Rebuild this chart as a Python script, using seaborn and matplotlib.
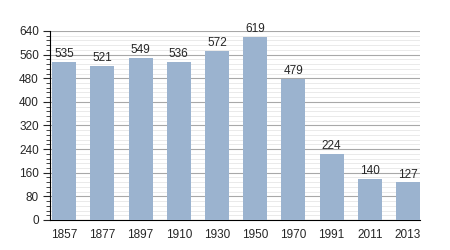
import matplotlib
matplotlib.use("Agg")
import matplotlib.pyplot as plt
import seaborn as sns
import pandas as pd
from matplotlib.ticker import MultipleLocator

years = ["1857", "1877", "1897", "1910", "1930", "1950", "1970", "1991", "2011", "2013"]
population = [535, 521, 549, 536, 572, 619, 479, 224, 140, 127]

df = pd.DataFrame({"year": years, "pop": population})

sns.set_style("white")
plt.rcParams['font.family'] = ['Liberation Sans', 'DejaVu Sans']

fig = plt.figure(figsize=(4.5, 2.5), dpi=100)
ax = fig.add_axes([50/450, 1 - 220/250, 370/450, 189/250])

sns.barplot(data=df, x="year", y="pop", color="#9bb3cf", saturation=1, width=0.63,
            linewidth=0, ax=ax, zorder=3)

ax.set_ylim(0, 640)
ax.set_xlim(-0.37, 9.315)
ax.yaxis.set_major_locator(MultipleLocator(80))
ax.yaxis.set_minor_locator(MultipleLocator(16))
ax.grid(axis="y", which="major", color="#a8a8a8", linewidth=0.8, zorder=0)
ax.grid(axis="y", which="minor", color="#e6e6e6", linewidth=0.6, zorder=0)
ax.set_axisbelow(True)
ax.set_xlabel("")
ax.set_ylabel("")
for s in ["top", "right"]:
    ax.spines[s].set_visible(False)
ax.spines["left"].set_color("black")
ax.spines["bottom"].set_color("black")
ax.tick_params(axis="y", which="major", left=True, length=5, width=0.8, labelsize=8.5, pad=3)
ax.tick_params(axis="y", which="minor", left=True, length=3, width=0.6)
ax.tick_params(axis="x", bottom=False, labelsize=8.5, pad=3)

for i, v in enumerate(population):
    ax.text(i, v + 6, str(v), ha="center", va="bottom", fontsize=8.5)

fig.savefig("out.png", dpi=100)
